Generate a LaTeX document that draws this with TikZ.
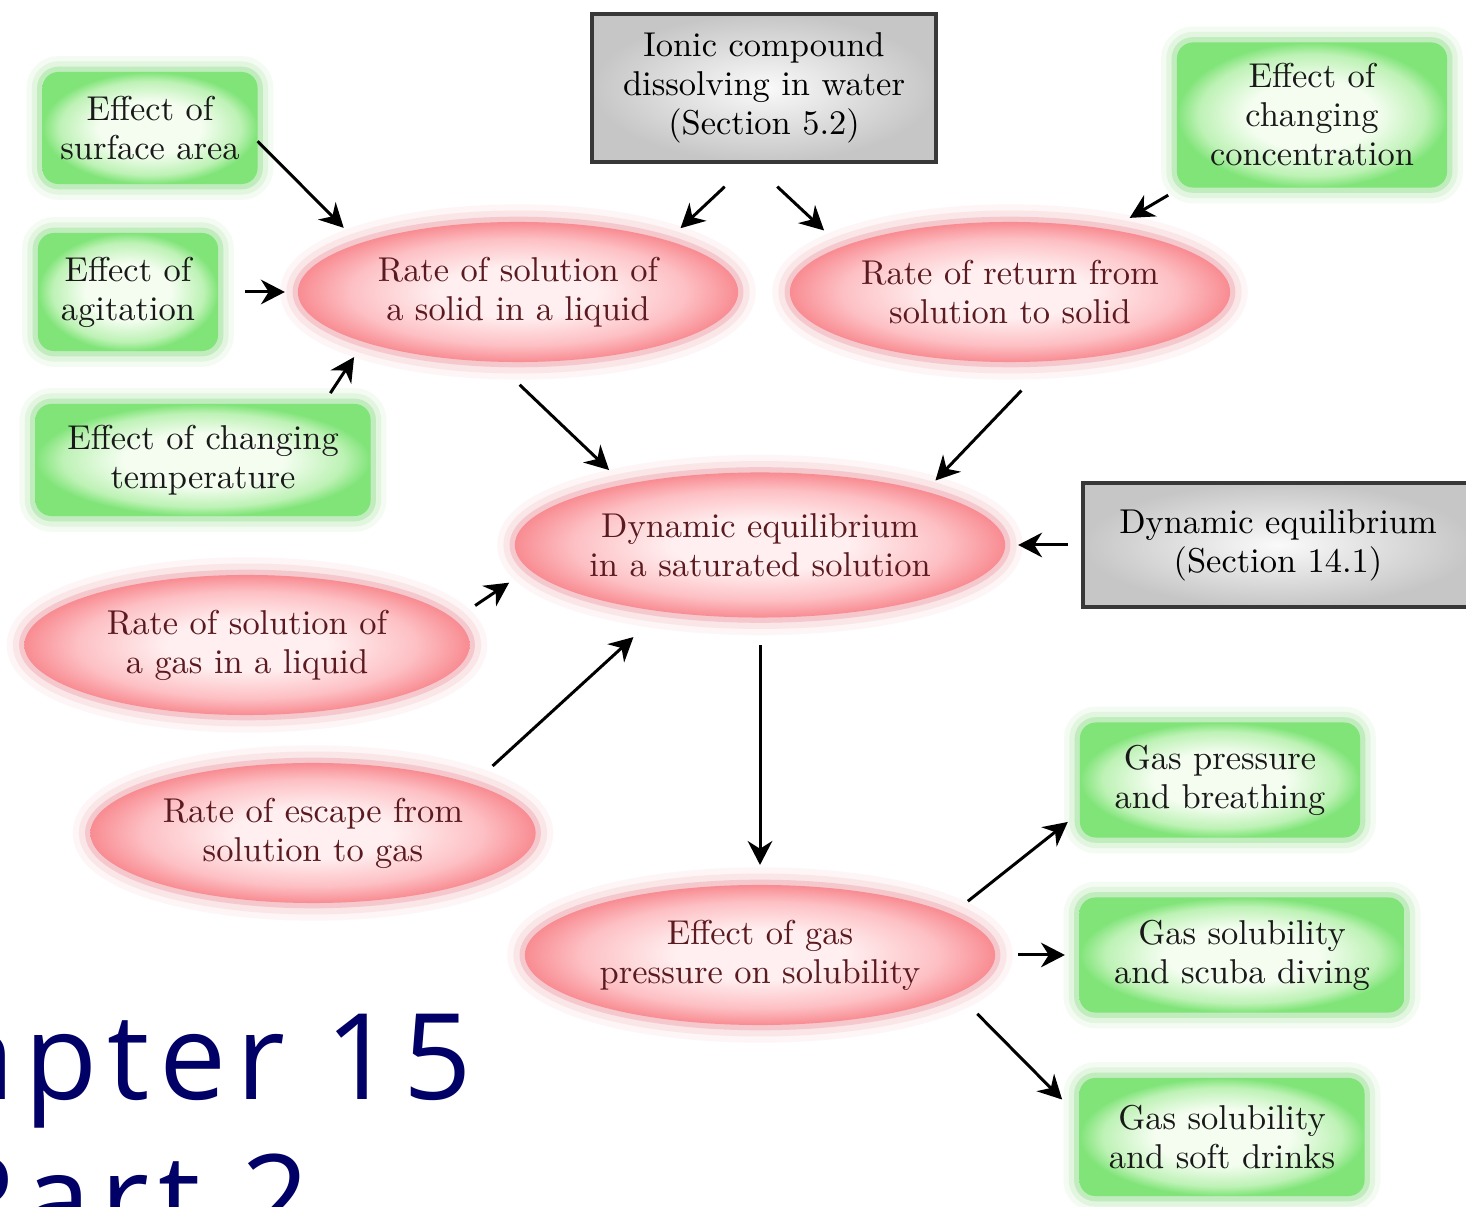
\documentclass[tikz,border=0pt]{standalone}
\usepackage{fontspec}
\usetikzlibrary{arrows.meta,shapes.geometric}
\newfontfamily\chapfont[LetterSpace=8]{Open Sans}
\definecolor{gin}{HTML}{F4FDF0}
\definecolor{gmid}{HTML}{BDF2B5}
\definecolor{gedge}{HTML}{80E478}
\definecolor{gglow}{HTML}{78D872}
\definecolor{rin}{HTML}{FFEFF0}
\definecolor{rmid}{HTML}{FDC0C4}
\definecolor{redge}{HTML}{F88C92}
\definecolor{rglow}{HTML}{E8878E}
\definecolor{gyin}{HTML}{FAFAFA}
\definecolor{gyedge}{HTML}{C6C6C6}
\definecolor{gyline}{HTML}{383838}
\definecolor{rtext}{HTML}{5A1A20}
\definecolor{navy}{HTML}{000066}
\pgfdeclareradialshading{gshade}{\pgfpointorigin}{color(0bp)=(gin); color(12bp)=(gin); color(21bp)=(gmid); color(25bp)=(gedge); color(50bp)=(gedge)}
\pgfdeclareradialshading{rshade}{\pgfpointorigin}{color(0bp)=(rin); color(9bp)=(rin); color(19bp)=(rmid); color(25bp)=(redge); color(50bp)=(redge)}
\pgfdeclareradialshading{gyshade}{\pgfpointorigin}{color(0bp)=(gyin); color(25bp)=(gyedge); color(50bp)=(gyedge)}
\newcommand{\lbl}{\fontsize{9.8}{11.1}\selectfont}

\begin{document}
\begin{tikzpicture}[x=0.01cm,y=-0.01cm,>={Stealth[length=6.8pt,width=7pt,inset=2.2pt]},
  every node/.style={font=\lbl,align=center,inner sep=0pt,outer sep=0pt},
  gbox/.style={rectangle,rounded corners=0.16cm,text=black!90,
    preaction={draw=gglow,line width=9pt,opacity=0.08},
    preaction={draw=gglow,line width=6pt,opacity=0.15},
    preaction={draw=gglow,line width=3pt,opacity=0.3},
    shade,shading=gshade},
  oval/.style={ellipse,text=rtext,
    preaction={draw=rglow,line width=10pt,opacity=0.08},
    preaction={draw=rglow,line width=6.5pt,opacity=0.14},
    preaction={draw=rglow,line width=3pt,opacity=0.3},
    shade,shading=rshade},
  sect/.style={rectangle,draw=gyline,line width=1pt,shade,shading=gyshade},
  chap/.style={font=\chapfont\fontsize{34}{40}\selectfont,text=navy},
  arr/.style={->,line width=0.85pt}]
\path[use as bounding box] (0,0) rectangle (1466,1207);
\fill[white] (0,0) rectangle (1466,1207);
\clip (0,0) rectangle (1466,1207);

\node[gbox,minimum width=2.15cm,minimum height=1.12cm] (sa) at (150,128) {Effect of\\surface area};
\node[gbox,minimum width=1.8cm,minimum height=1.18cm] (ag) at (128,292) {Effect of\\agitation};
\node[gbox,minimum width=3.35cm,minimum height=1.12cm] (tp) at (203,460) {Effect of changing\\temperature};
\node[gbox,minimum width=2.7cm,minimum height=1.45cm] (cc) at (1312,115) {Effect of\\changing\\concentration};
\node[gbox,minimum width=2.8cm,minimum height=1.15cm] (br) at (1220,780) {Gas pressure\\and breathing};
\node[gbox,minimum width=3.25cm,minimum height=1.15cm] (sc) at (1242,955) {Gas solubility\\and scuba diving};
\node[gbox,minimum width=2.85cm,minimum height=1.18cm] (sd) at (1222,1137) {Gas solubility\\and soft drinks};
\node[sect,minimum width=3.44cm,minimum height=1.48cm] (ic) at (764,88) {Ionic compound\\dissolving in water\\(Section 5.2)};
\node[sect,minimum width=3.9cm,minimum height=1.24cm] (ds) at (1278,545) {Dynamic equilibrium\\(Section 14.1)};
\node[oval,minimum width=4.4cm,minimum height=1.4cm] (rs) at (518,292) {Rate of solution of\\a solid in a liquid};
\node[oval,minimum width=4.4cm,minimum height=1.4cm] (rr) at (1010,292) {Rate of return from\\solution to solid};
\node[oval,minimum width=4.9cm,minimum height=1.45cm] (de) at (760,545) {Dynamic equilibrium\\in a saturated solution};
\node[oval,minimum width=4.45cm,minimum height=1.4cm] (rg) at (247,645) {Rate of solution of\\a gas in a liquid};
\node[oval,minimum width=4.45cm,minimum height=1.4cm] (re) at (313,833) {Rate of escape from\\solution to gas};
\node[oval,minimum width=4.7cm,minimum height=1.4cm] (eg) at (760,955) {Effect of gas\\pressure on solubility};
\node[chap,anchor=base east] (chap1) at (472,1100) {Chapter 15};
\node[chap,anchor=base] (chap2) at ([yshift=-1.4cm]chap1.base) {Part 2};

\draw[arr,shorten >=0.22cm] (sa.-7) -- (rs.163);
\draw[arr,shorten <=0.27cm,shorten >=0.13cm] (ag.east) -- (rs.west);
\draw[arr,shorten <=0.13cm,shorten >=0.18cm] (tp.25) -- (rs.198);
\draw[arr,shorten <=0.36cm,shorten >=0.18cm] (ic.260) -- (rs.19);
\draw[arr,shorten <=0.36cm,shorten >=0.24cm] (ic.260) -- (rr.165);
\draw[arr,shorten <=0.15cm,shorten >=0.23cm] (cc.209) -- (rr.32);
\draw[arr,shorten <=0.335cm,shorten >=0.21cm] (rs.252) -- (de.156);
\draw[arr,shorten <=0.41cm,shorten >=0.15cm] (rr.-60) -- (de.18);
\draw[arr,shorten <=0.15cm,shorten >=0.13cm] (ds.west) -- (de.east);
\draw[arr,shorten <=0.25cm,shorten >=0.24cm] (rg.7) -- (de.186);
\draw[arr,shorten <=0.27cm,shorten >=0.38cm] (re.17) -- (de.214);
\draw[arr,shorten <=0.275cm,shorten >=0.2cm] (de.south) -- (eg.north);
\draw[arr,shorten <=0.21cm,shorten >=0.155cm] (eg.12) -- (br.193);
\draw[arr,shorten <=0.23cm,shorten >=0.145cm] (eg.east) -- (sc.west);
\draw[arr,shorten <=0.29cm,shorten >=0.245cm] (eg.-11) -- (sd.172);
\end{tikzpicture}
\end{document}
